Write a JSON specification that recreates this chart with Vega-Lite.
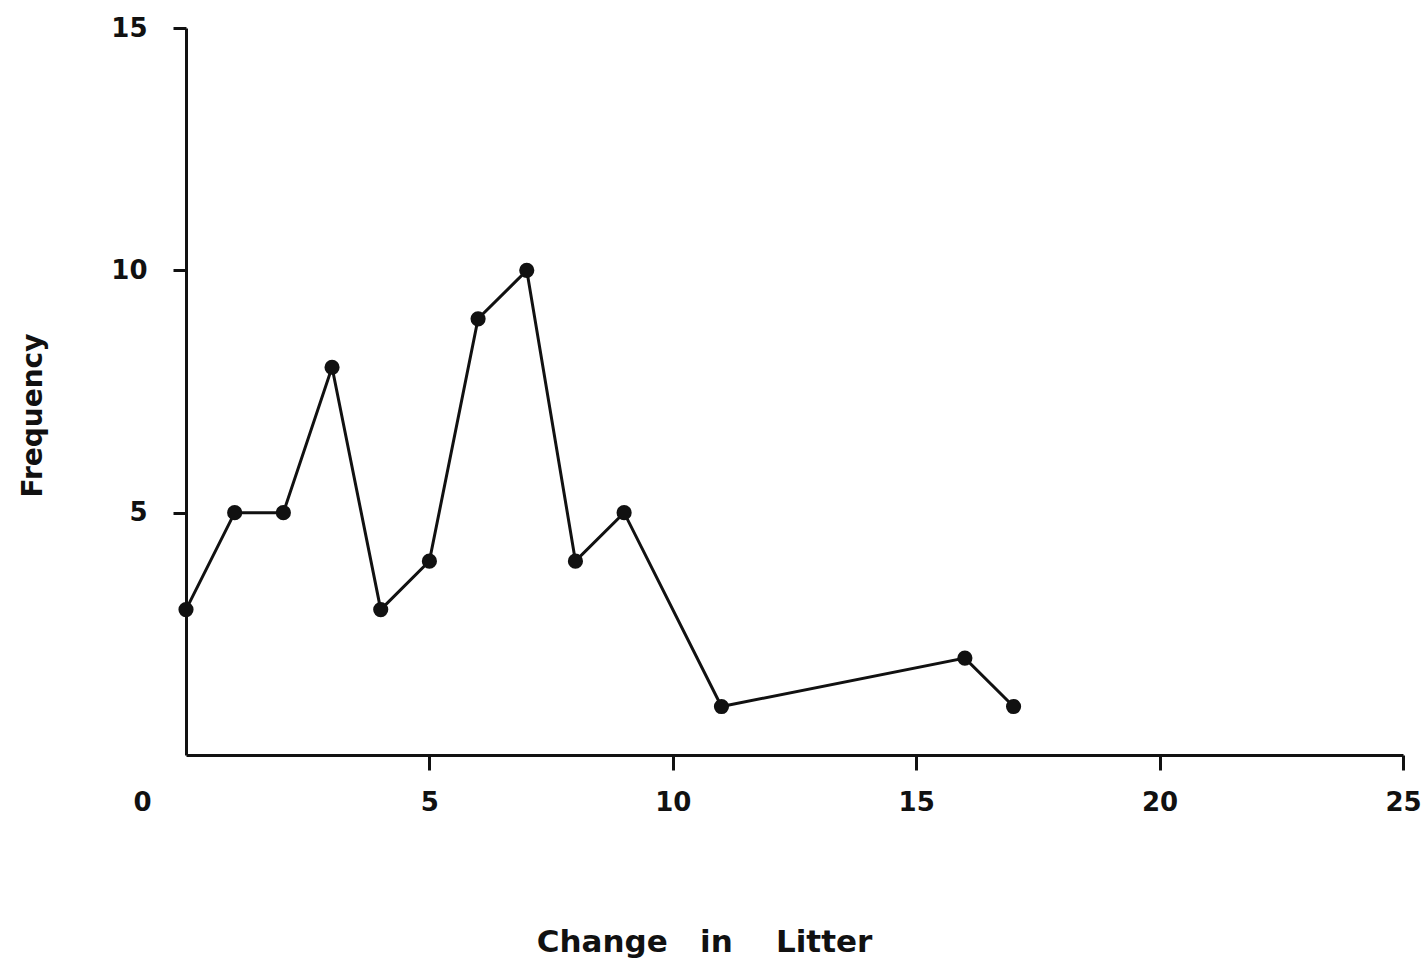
{
  "$schema": "https://vega.github.io/schema/vega-lite/v6.json",
  "width": 1217,
  "height": 727,
  "autosize": "none",
  "padding": {"left": 186, "top": 28, "right": 18, "bottom": 206},
  "background": "white",
  "config": {"view": {"stroke": null}},
  "data": {"values": [
    {"change": 0, "frequency": 3},
    {"change": 1, "frequency": 5},
    {"change": 2, "frequency": 5},
    {"change": 3, "frequency": 8},
    {"change": 4, "frequency": 3},
    {"change": 5, "frequency": 4},
    {"change": 6, "frequency": 9},
    {"change": 7, "frequency": 10},
    {"change": 8, "frequency": 4},
    {"change": 9, "frequency": 5},
    {"change": 11, "frequency": 1},
    {"change": 16, "frequency": 2},
    {"change": 17, "frequency": 1}
  ]},
  "encoding": {
    "x": {
      "field": "change", "type": "quantitative",
      "scale": {"domain": [0, 25], "nice": false, "zero": false},
      "axis": {
        "values": [0, 5, 10, 15, 20, 25],
        "title": "Change\u00a0\u00a0\u00a0in\u00a0\u00a0\u00a0\u00a0Litter",
        "titleFont": "DejaVu Sans", "titleFontSize": 31, "titleFontWeight": "bold", "titleColor": "#111",
        "titleX": 518, "titleY": 196, "titleAnchor": null, "titleAlign": "center", "titleBaseline": "alphabetic",
        "domainColor": "#111", "domainWidth": 3,
        "tickColor": "#111", "tickWidth": 3, "tickSize": 15,
        "tickOpacity": {"condition": {"test": "datum.value == 0", "value": 0}, "value": 1},
        "labelOffset": {"condition": {"test": "datum.value == 0", "value": -44}, "value": 0},
        "labelFont": "DejaVu Sans", "labelFontSize": 26, "labelFontWeight": "bold", "labelColor": "#111",
        "labelPadding": 19, "labelFlush": false, "labelOverlap": false,
        "grid": false
      }
    },
    "y": {
      "field": "frequency", "type": "quantitative",
      "scale": {"domain": [0, 15], "nice": false},
      "axis": {
        "values": [0, 5, 10, 15],
        "title": "Frequency",
        "titleFont": "DejaVu Sans", "titleFontSize": 28, "titleFontWeight": "bold", "titleColor": "#111",
        "titleX": -153, "titleY": 387, "titleAngle": -90, "titleAlign": "center", "titleBaseline": "middle", "titleAnchor": null,
        "domainColor": "#111", "domainWidth": 3,
        "tickColor": "#111", "tickWidth": 3, "tickSize": 13,
        "tickOpacity": {"condition": {"test": "datum.value == 0", "value": 0}, "value": 1},
        "labelExpr": "datum.value == 0 ? '' : datum.label",
        "labelFont": "DejaVu Sans", "labelFontSize": 26, "labelFontWeight": "bold", "labelColor": "#111",
        "labelPadding": 26, "labelFlush": false, "labelOverlap": false,
        "grid": false
      }
    }
  },
  "layer": [
    {"mark": {"type": "line", "color": "#111", "strokeWidth": 3}},
    {"mark": {"type": "point", "filled": true, "color": "#111", "opacity": 1, "size": 230}}
  ]
}
